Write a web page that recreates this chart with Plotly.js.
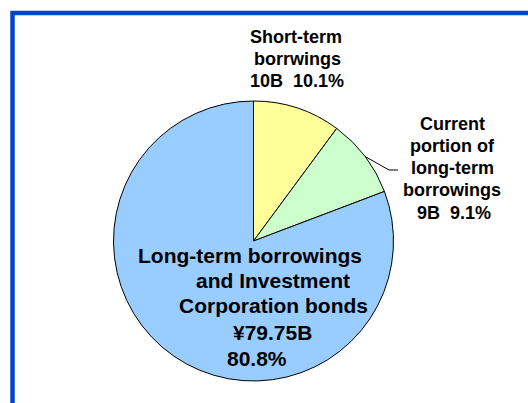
<!DOCTYPE html>
<html>
<head>
<meta charset="utf-8">
<script src="https://cdn.plot.ly/plotly-3.0.1.min.js"></script>
<style>html,body{margin:0;padding:0;background:#fff;}#chart{width:528px;height:403px;}</style>
</head>
<body>
<div id="chart"></div>
<script>
// ---- data ----
const categories = ["Short-term borrwings", "Current portion of long-term borrowings", "Long-term borrowings and Investment Corporation bonds"];
const values = [10, 9, 79.75];
const valueLabels = ["10B", "9B", "¥79.75B"];
const percentLabels = ["10.1%", "9.1%", "80.8%"];
const labelLines = [
  ["Short-term", "borrwings", valueLabels[0] + "\u00a0\u00a0" + percentLabels[0]],
  ["Current", "portion of", "long-term", "borrowings", valueLabels[1] + "\u00a0\u00a0" + percentLabels[1]],
  ["Long-term borrowings", "and Investment", "Corporation bonds", valueLabels[2], percentLabels[2]]
];

// ---- styles / layout ----
const W = 528, H = 403;
const sliceColors = ["#FFFF99", "#CCFFCC", "#99CCFF"];
const cx = 253.5, cy = 241, R = 140;
const fontFamily = "Liberation Sans, Arial, sans-serif";
// label placement: per line [x center, baseline] and font size
const labelPlacement = [
  {fs: 18, x: [296, 297, 297], base: [43, 65, 87]},
  {fs: 18, x: [452, 452, 452, 452, 454], base: [130, 152, 174, 196, 219]},
  {fs: 21, x: [249.5, 273, 273, 272, 257], base: [263, 288, 313, 340, 366]}
];

const annotations = [];
labelLines.forEach((lines, i) => {
  const p = labelPlacement[i];
  lines.forEach((t, j) => {
    annotations.push({
      xref: "paper", yref: "paper",
      x: p.x[j] / W,
      y: 1 - (p.base[j] - 0.36 * p.fs) / H,
      xanchor: "center", yanchor: "middle",
      text: t, showarrow: false,
      font: {family: fontFamily, size: p.fs, color: "#000000", weight: "bold"}
    });
  });
});

// leader line for the second slice, starting at the slice's mid-angle on the rim
const total = values.reduce((a, b) => a + b, 0);
const before = values[0];
const midFrac = (before + values[1] / 2) / total;
const ang = midFrac * 2 * Math.PI;
const sx = cx + R * Math.sin(ang), sy = cy - R * Math.cos(ang);
const px = v => v / W, py = v => 1 - v / H;
const leaderPath = `M ${px(sx)} ${py(sy)} L ${px(389)} ${py(170)} L ${px(398)} ${py(170)}`;

const shapes = [
  {type: "rect", xref: "paper", yref: "paper", x0: 12.5 / W, x1: 1.2, y0: -0.2, y1: 1 - 13 / H,
   line: {color: "#0046C8", width: 4.5}, fillcolor: "rgba(0,0,0,0)", layer: "above"},
  {type: "path", xref: "paper", yref: "paper", path: leaderPath,
   line: {color: "#000000", width: 1}, layer: "above"}
];

const trace = {
  type: "pie",
  labels: categories,
  values: values,
  sort: false,
  direction: "clockwise",
  rotation: 0,
  textinfo: "none",
  hoverinfo: "none",
  marker: {colors: sliceColors, line: {color: "#000000", width: 1}},
  domain: {x: [(cx - R) / W, (cx + R) / W], y: [(H - cy - R) / H, (H - cy + R) / H]},
  showlegend: false
};

const layout = {
  width: W, height: H,
  margin: {l: 0, r: 0, t: 0, b: 0},
  paper_bgcolor: "#FFFFFF",
  plot_bgcolor: "#FFFFFF",
  showlegend: false,
  annotations: annotations,
  shapes: shapes
};

Plotly.newPlot("chart", [trace], layout, {staticPlot: true, displayModeBar: false});
</script>
</body>
</html>
